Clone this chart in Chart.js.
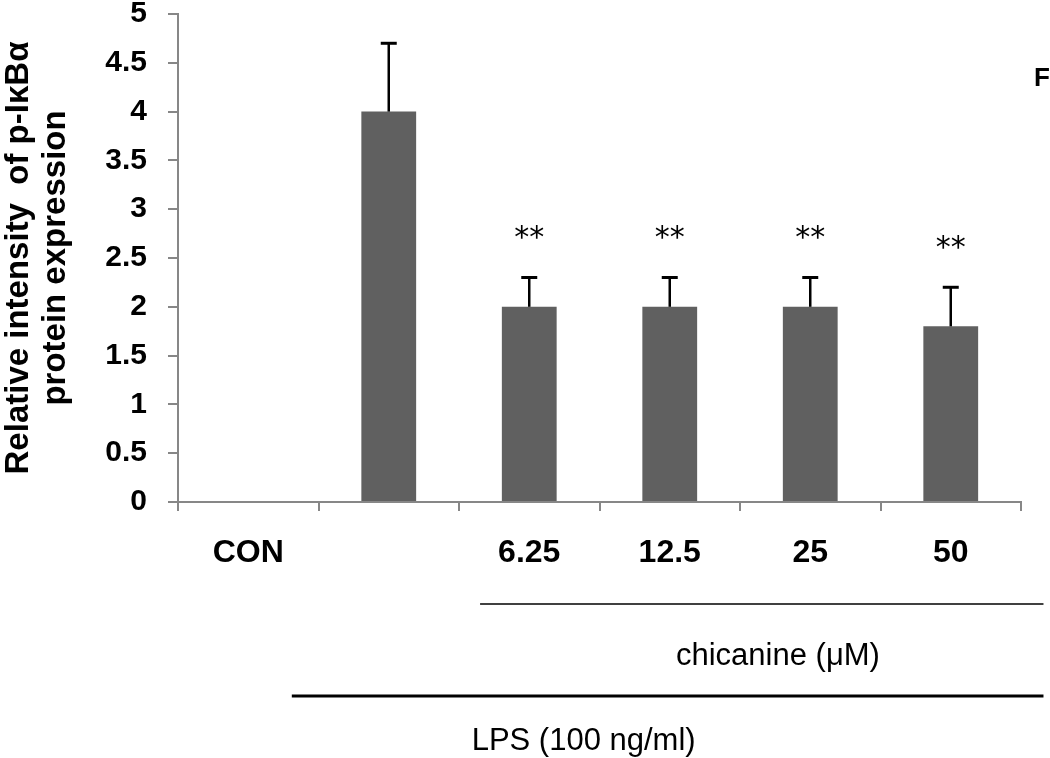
<!DOCTYPE html>
<html>
<head>
<meta charset="utf-8">
<script src="https://cdn.jsdelivr.net/npm/chart.js@4/dist/chart.umd.min.js"></script>
<style>
  html, body { margin: 0; padding: 0; background: #fff; }
  #wrap { width: 1050px; height: 758px; position: relative; }
</style>
</head>
<body>
<div id="wrap"><canvas id="pikb_chart"></canvas></div>
<script>
// ---- data
const groups    = ['CON', '', '6.25', '12.5', '25', '50'];
const means     = [0, 4.0, 2.0, 2.0, 2.0, 1.8];
const errors    = [0, 0.7, 0.3, 0.3, 0.3, 0.4];
const sigMarks  = ['', '', '**', '**', '**', '**'];
const yTicks    = [0, 0.5, 1, 1.5, 2, 2.5, 3, 3.5, 4, 4.5, 5];

const axisGrey  = '#878787';
const barGrey   = '#606060';
const boldFont  = '"Liberation Sans", Arial, sans-serif';

// error bars + ** marks
const errorBars = {
    id: 'errorBars',
    afterDatasetsDraw(chart) {
        const ctx  = chart.ctx;
        const meta = chart.getDatasetMeta(0);
        const ys   = chart.scales.y;
        ctx.save();
        meta.data.forEach(function(bar, i) {
            if (!errors[i]) return;
            const top = ys.getPixelForValue(means[i] + errors[i]);
            ctx.strokeStyle = '#000';
            ctx.lineWidth = 2.5;
            ctx.beginPath();
            ctx.moveTo(bar.x, bar.y);
            ctx.lineTo(bar.x, top);
            ctx.stroke();
            ctx.lineWidth = 3;
            ctx.beginPath();
            ctx.moveTo(bar.x - 8, top);
            ctx.lineTo(bar.x + 8, top);
            ctx.stroke();
            if (sigMarks[i]) {
                ctx.fillStyle = '#000';
                ctx.font = '30px "DejaVu Sans", sans-serif';
                ctx.textAlign = 'center';
                ctx.textBaseline = 'middle';
                ctx.fillText(sigMarks[i], bar.x, top - 38);
            }
        });
        ctx.restore();
    }
};

// treatment brackets under the axis
const groupLines = {
    id: 'groupLines',
    afterDraw(chart) {
        const ctx = chart.ctx;
        const xs  = chart.scales.x;
        const px  = v => xs.getPixelForValue(v);
        ctx.save();
        ctx.strokeStyle = '#000';
        ctx.fillStyle = '#000';
        ctx.font = '31px "Liberation Sans", Arial, sans-serif';
        ctx.textBaseline = 'middle';

        ctx.lineWidth = 1.5;
        ctx.beginPath();
        ctx.moveTo(px(1.65), 604);
        ctx.lineTo(px(5.66), 604);
        ctx.stroke();
        ctx.textAlign = 'center';
        ctx.fillText('chicanine (\u03BCM)', px(3.77), 656);

        ctx.lineWidth = 3;
        ctx.beginPath();
        ctx.moveTo(px(0.31), 696);
        ctx.lineTo(px(5.66), 696);
        ctx.stroke();
        ctx.textAlign = 'left';
        ctx.fillText('LPS (100 ng/ml)', px(1.59), 741);

        // panel letter
        ctx.font = 'bold 26px ' + boldFont;
        ctx.fillText('F', chart.chartArea.right + 13, 79);
        ctx.restore();
    }
};

(function () {
    const ctx = document.getElementById('pikb_chart').getContext('2d');
    new Chart(ctx, {
        type: 'bar',
        data: {
            labels: groups,
            datasets: [{
                data: means,
                backgroundColor: barGrey,
                borderWidth: 0,
                categoryPercentage: 1.0,
                barPercentage: 0.39
            }]
        },
        options: {
            responsive: true,
            maintainAspectRatio: false,
            animation: false,
            layout: { padding: { top: 14, right: 29, bottom: 176, left: 0 } },
            plugins: { legend: { display: false }, tooltip: { enabled: false } },
            scales: {
                x: {
                    afterFit: s => { s.height = 80; },
                    border: { color: axisGrey, width: 2 },
                    grid: { offset: true, drawOnChartArea: false, tickLength: 9, color: axisGrey, lineWidth: 2 },
                    ticks: { color: '#000', padding: 23, font: { family: boldFont, size: 32, weight: 'bold' } }
                },
                y: {
                    min: 0,
                    max: 5,
                    afterFit: s => { s.width = 178; s.paddingTop = 0; s.paddingBottom = 0; },
                    afterBuildTicks: s => { s.ticks = yTicks.map(v => ({ value: v })); },
                    border: { color: axisGrey, width: 2 },
                    grid: { drawOnChartArea: false, tickLength: 10, color: axisGrey, lineWidth: 2 },
                    ticks: {
                        color: '#000',
                        padding: 21,
                        font: { family: boldFont, size: 30, weight: 'bold' },
                        callback: v => String(v)
                    },
                    title: {
                        display: true,
                        text: ['Relative intensity  of p-I\u03BAB\u03B1', 'protein expression'],
                        color: '#000',
                        padding: 0,
                        font: { family: boldFont, size: 33, weight: 'bold', lineHeight: 1.12 }
                    }
                }
            }
        },
        plugins: [errorBars, groupLines]
    });
})();
</script>
</body>
</html>
